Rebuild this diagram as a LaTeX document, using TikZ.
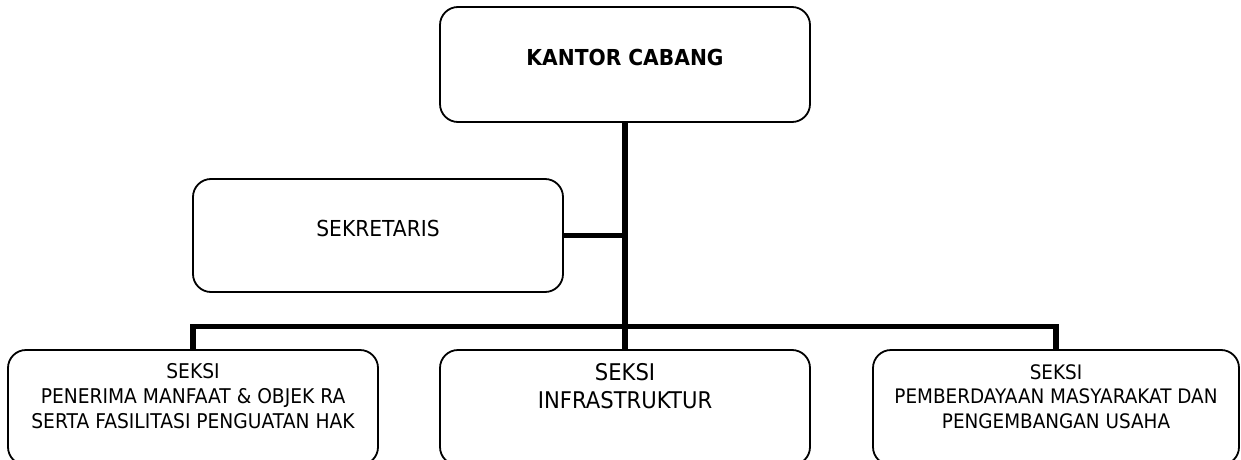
\documentclass[tikz,border=0pt]{standalone}
\usepackage{fontspec}
\setmainfont{DejaVu Sans}[FakeStretch=0.92]
\begin{document}
\begin{tikzpicture}[x=1pt,y=-1pt]
\tikzset{
  orgbox/.style={draw=black, line width=1.8pt, rounded corners=18pt, inner sep=0pt, rectangle},
  link/.style={line width=5.8pt, line join=miter, draw=black},
  lbl/.style={inner sep=0pt, anchor=north, align=center, text=black}
}
\useasboundingbox (0,0) rectangle (1241,460);
% boxes
\node[orgbox, minimum width=370pt, minimum height=115pt] (kc) at (625,64.5) {};
\node[orgbox, minimum width=370pt, minimum height=113pt] (sk) at (378,235.5) {};
\node[orgbox, minimum width=370pt, minimum height=115pt] (lb) at (193,407.5) {};
\node[orgbox, minimum width=370pt, minimum height=115pt] (mb) at (625,407.5) {};
\node[orgbox, minimum width=366pt, minimum height=115pt] (rb) at (1056,407.5) {};
% texts
\node[lbl, font=\bfseries\fontsize{22}{27}\selectfont] (kct) at (625,49) {KANTOR CABANG};
\node[lbl, font=\fontsize{22}{27}\selectfont] (skt) at (378,220) {SEKRETARIS};
\node[lbl, font=\fontsize{20.3}{25}\selectfont] (lbt) at (193,363) {SEKSI\\PENERIMA MANFAAT \& OBJEK RA\\SERTA FASILITASI PENGUATAN HAK};
\node[lbl, font=\fontsize{23}{28.5}\selectfont] (mbt) at (625,363) {SEKSI\\INFRASTRUKTUR};
\node[lbl, font=\fontsize{20}{24.5}\selectfont] (rbt) at (1056,364) {SEKSI\\PEMBERDAYAAN MASYARAKAT DAN\\PENGEMBANGAN USAHA};
% connectors
\coordinate (sj) at (sk.east -| kc.south);
\coordinate (bus) at (625,326.5);
\draw[link] (kc.south) -- (mb.north);
\draw[link] (sk.east) -- (sj);
\draw[link] (lb.north) |- (bus) -| (rb.north);
\end{tikzpicture}
\end{document}
